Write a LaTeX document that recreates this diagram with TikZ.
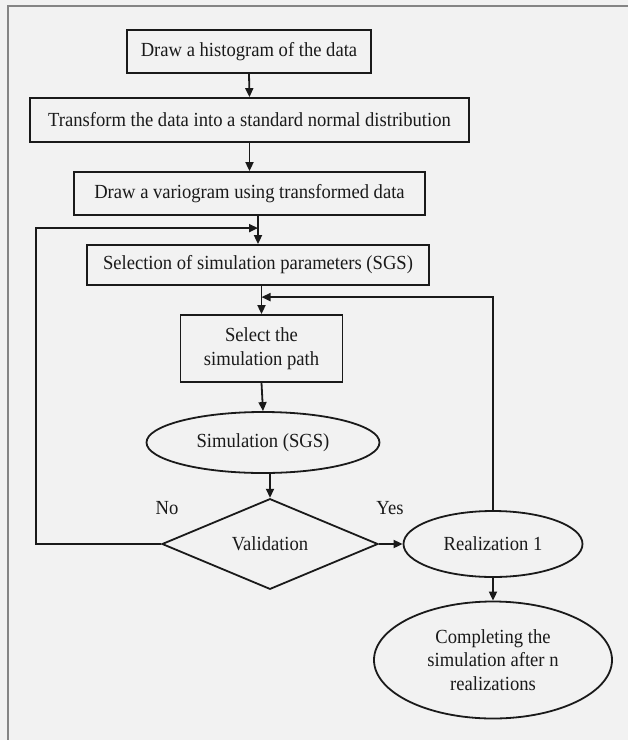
\documentclass[tikz,border=0pt]{standalone}
\usepackage{fontspec}
\setmainfont{Liberation Serif}[FakeStretch=0.93]
\usepackage{xcolor}
\usetikzlibrary{shapes.geometric,arrows.meta}
\definecolor{paper}{HTML}{F2F2F2}
\definecolor{framegray}{HTML}{858585}
\definecolor{ink}{HTML}{1A1A1A}
\tikzset{
	box/.style={draw=ink, line width=1.8pt, shape=rectangle, inner sep=0, align=center},
	oval/.style={draw=ink, line width=1.8pt, shape=ellipse, inner sep=0, align=center},
	decision/.style={draw=ink, line width=1.8pt, shape=diamond, inner sep=0},
	flow/.style={draw=ink, line width=1.8pt, -{Triangle[length=9pt, width=8pt]}},
}

\begin{document}
\begin{tikzpicture}[x=1pt, y=-1pt, font=\fontsize{20}{23.5}\selectfont, text=ink]
	% Frame and background:
	\fill[paper] (0, 0) rectangle (628, 740);
	\useasboundingbox (0, 0) rectangle (628, 740);
	\draw[framegray, line width=2pt] (8, 740) -- (8, 6) -- (628, 6);
	% Steps, decision and labels:
	\node[box, minimum width=244pt, minimum height=43pt] (Hist) at (249, 51.5) {Draw a histogram of the data};
	\node[box, minimum width=439pt, minimum height=44pt] (Trans) at (249.5, 120) {Transform the data into a standard normal distribution};
	\node[box, minimum width=351pt, minimum height=43pt] (Vario) at (249.5, 193.5) {Draw a variogram using transformed data};
	\node[box, minimum width=342pt, minimum height=40pt] (Sel) at (258, 265) {Selection of simulation parameters (SGS)};
	\node[box, minimum width=162pt, minimum height=67pt] (Path) at (261.5, 348.5) {Select the\\simulation path};
	\node[oval, minimum width=233pt, minimum height=61pt] (Sim) at (263, 442.5) {Simulation (SGS)};
	\node[decision, minimum width=216pt, minimum height=84pt] (Valid) at (270, 544) {Validation};
	\node[oval, minimum width=179pt, minimum height=66pt] (Real) at (493, 544) {Realization 1};
	\node[oval, minimum width=238pt, minimum height=117pt] (Compl) at (493, 660) {Completing the\\simulation after n\\realizations};
	\node[anchor=center] (NoLbl) at (167, 508) {No};
	\node[anchor=center] (YesLbl) at (390, 508) {Yes};
	\coordinate (JoinL) at ([yshift=16pt]Sel.north);
	\coordinate (JoinR) at ([yshift=17pt]Path.north);
	% Arrows:
	\draw[flow] (Hist.south) -- (Trans.north);
	\draw[flow] (Trans.south) -- (Vario.north);
	\draw[flow] (Vario.south -| Sel.north) -- (Sel.north);
	\draw[flow] (Sel.south -| Path.north) -- (Path.north);
	\draw[flow] (Path.south) -- (Sim.north);
	\draw[flow] (Sim.south -| Valid.north) -- (Valid.north);
	\draw[flow] (Valid.east) -- (Real.west);
	\draw[flow] (Real.south) -- (Compl.north);
	\draw[flow] (Valid.west) -- ++(-125, 0) |- (JoinL);
	\draw[flow] (Real.north) |- (JoinR);
\end{tikzpicture}
\end{document}
